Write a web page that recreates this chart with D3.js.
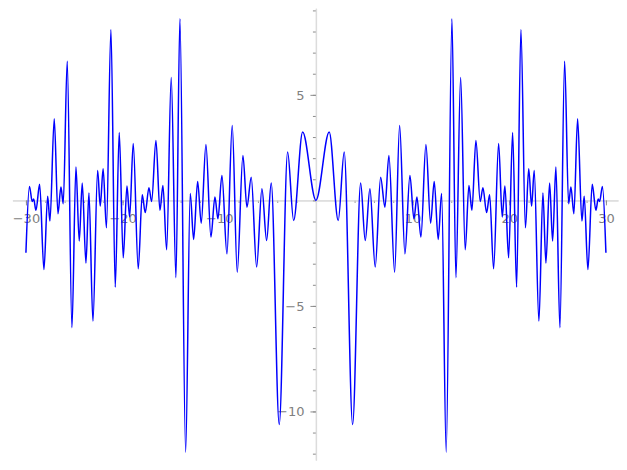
<!DOCTYPE html>
<html>
<head>
<meta charset="utf-8">
<script src="https://cdn.jsdelivr.net/npm/d3@7"></script>
<style>
  body { margin: 0; background: #fff; }
  #chart text { font-family: "DejaVu Sans", sans-serif; font-size: 13px; fill: #808080; }
</style>
</head>
<body>
<div id="chart"></div>
<script>
//// data (local extrema of the curve, left to right)
var xs = [-30.0, -29.637, -29.35, -29.20, -28.965, -28.582, -28.137, -27.754, -27.516, -27.071,
  -26.689, -26.378, -26.141, -25.727, -25.241, -24.827, -24.485, -24.175, -23.792, -23.482,
  -23.068, -22.582, -22.313, -22.013, -21.672, -21.206, -20.761, -20.348, -19.934, -19.551,
  -19.272, -18.899, -18.382, -17.968, -17.658, -17.275, -16.996, -16.551, -16.137, -15.827,
  -15.444, -14.969, -14.482, -14.069, -13.479, -13.003, -12.651, -12.237, -11.865, -11.379,
  -10.862, -10.448, -10.138, -9.724, -9.207, -8.658, -8.141, -7.552, -7.138, -6.693,
  -6.134, -5.586, -5.100, -4.624, -3.796, -2.928, -2.307, -1.376,
  0,
  1.376, 2.307, 2.928, 3.796, 4.624, 5.100, 5.586, 6.134,
  6.693, 7.138, 7.552, 8.141, 8.658, 9.207, 9.724, 10.138, 10.448, 10.862,
  11.379, 11.865, 12.237, 12.651, 13.003, 13.479, 14.069, 14.482, 14.969, 15.444,
  15.827, 16.137, 16.551, 16.996, 17.275, 17.658, 17.968, 18.382, 18.899, 19.272,
  19.551, 19.934, 20.348, 20.761, 21.206, 21.672, 22.013, 22.313, 22.582, 23.068,
  23.482, 23.792, 24.175, 24.485, 24.827, 25.241, 25.727, 26.141, 26.378, 26.689,
  27.071, 27.516, 27.754, 28.137, 28.582, 28.965, 29.20, 29.35, 29.637, 30.0];

var ys = [-2.48, 0.66, -0.05, 0.07, -0.47, 0.76, -3.28, 0.20, -0.98, 3.87,
  -0.63, 0.63, -0.16, 6.59, -6.03, 1.58, -1.93, 0.82, -2.97, 0.35,
  -5.72, 1.42, -0.27, 1.50, -1.30, 8.09, -4.11, 3.21, -2.72, 0.68,
  -0.79, 2.69, -3.24, 0.27, -0.58, 0.60, -0.05, 2.84, -0.47, 0.71,
  -2.34, 5.82, -3.66, 8.61, -11.93, 0.32, -1.85, 0.90, -1.08, 2.65,
  -1.74, 0.16, -0.87, 1.18, -2.53, 3.55, -3.40, 2.13, -0.32, 1.10,
  -3.16, 0.55, -1.90, 0.82, -10.62, 2.29, -0.95, 3.24,
  0,
  3.24, -0.95, 2.29, -10.62, 0.82, -1.90, 0.55, -3.16,
  1.10, -0.32, 2.13, -3.40, 3.55, -2.53, 1.18, -0.87, 0.16, -1.74,
  2.65, -1.08, 0.90, -1.85, 0.32, -11.93, 8.61, -3.66, 5.82, -2.34,
  0.71, -0.47, 2.84, -0.05, 0.60, -0.58, 0.27, -3.24, 2.69, -0.79,
  0.68, -2.72, 3.21, -4.11, 8.09, -1.30, 1.50, -0.27, 1.42, -5.72,
  0.35, -2.97, 0.82, -1.93, 1.58, -6.03, 6.59, -0.16, 0.63, -0.63,
  3.87, -0.98, 0.20, -3.28, 0.76, -0.47, 0.07, -0.05, 0.66, -2.48];

var xMajor = [-30, -20, -10, 10, 20, 30];
var xMinor = d3.range(-30, 31, 2);
var yMajor = [-10, -5, 5];
var yMinor = d3.range(-12, 10, 1);

var width = 627, height = 470;

var svg = d3.select("#chart")
  .append("svg")
    .attr("width", width)
    .attr("height", height);

var xScale = d3.scaleLinear()
  .domain([-31.4, 31.25])
  .range([12.4, 618]);

var yScale = d3.scaleLinear()
  .domain([-12.3, 9.1])
  .range([460, 8.3]);

var axisColor = "#dcdcdc", tickColor = "#8c8c8c";

//// axes through the origin
var xAxis = svg.append("g")
  .attr("transform", "translate(0," + yScale(0) + ")")
  .call(d3.axisBottom(xScale)
    .tickValues(xMinor)
    .tickSize(2.5)
    .tickFormat("")
    .tickSizeOuter(0));

svg.append("g")
  .attr("transform", "translate(0," + yScale(0) + ")")
  .call(d3.axisBottom(xScale)
    .tickValues(xMajor)
    .tickSize(5)
    .tickPadding(8)
    .tickFormat(d => d < 0 ? "\u2212" + Math.abs(d) : d)
    .tickSizeOuter(0));

svg.append("g")
  .attr("transform", "translate(" + xScale(0) + ",0)")
  .call(d3.axisLeft(yScale)
    .tickValues(yMinor)
    .tickSize(3)
    .tickFormat("")
    .tickSizeOuter(0));

svg.append("g")
  .attr("transform", "translate(" + xScale(0) + ",0)")
  .call(d3.axisLeft(yScale)
    .tickValues(yMajor)
    .tickSize(5.5)
    .tickPadding(6)
    .tickFormat(d => d < 0 ? "\u2212" + Math.abs(d) : d)
    .tickSizeOuter(0));

svg.selectAll(".domain").attr("stroke", axisColor).attr("stroke-width", 1.3);
svg.selectAll(".tick line").attr("stroke", tickColor);
svg.selectAll(".tick text").attr("fill", "#808080");

//// curve
var pts = xs.map((x, i) => [x, ys[i]]);

var line = d3.line()
  .x(d => xScale(d[0]))
  .y(d => yScale(d[1]))
  .curve(d3.curveMonotoneX);

svg.append("path")
  .datum(pts)
  .attr("fill", "none")
  .attr("stroke", "#0000ff")
  .attr("stroke-width", 1.5)
  .attr("d", line);
</script>
</body>
</html>
